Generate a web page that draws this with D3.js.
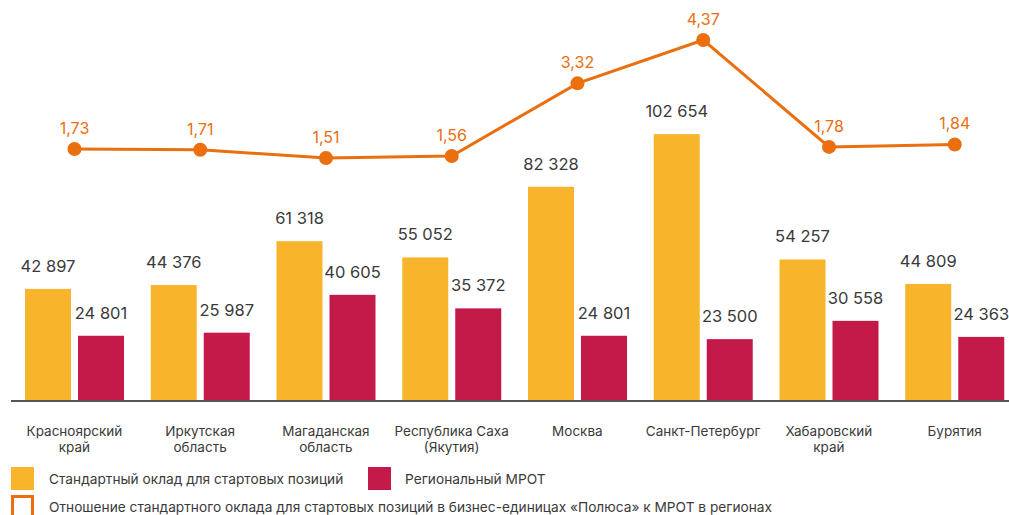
<!DOCTYPE html>
<html>
<head>
<meta charset="utf-8">
<script src="https://cdn.jsdelivr.net/npm/d3@7"></script>
<style>
  html, body { margin: 0; padding: 0; background: #fff; }
  svg { display: block; font-family: Inter, "Noto Sans", sans-serif; }
</style>
</head>
<body>
<svg id="chart" width="1009" height="515"></svg>
<script>
// Regions
const categories = [
  ["Красноярский", "край"],
  ["Иркутская", "область"],
  ["Магаданская", "область"],
  ["Республика Саха", "(Якутия)"],
  ["Москва"],
  ["Санкт-Петербург"],
  ["Хабаровский", "край"],
  ["Бурятия"]
];
// Standard salary for starting positions, RUB
const salary = [42897, 44376, 61318, 55052, 82328, 102654, 54257, 44809];
// Regional minimum wage, RUB
const minWage = [24801, 25987, 40605, 35372, 24801, 23500, 30558, 24363];
// Ratio of salary to minimum wage
const ratio = [1.73, 1.71, 1.51, 1.56, 3.32, 4.37, 1.78, 1.84];
const ratioLabels = ["1,73", "1,71", "1,51", "1,56", "3,32", "4,37", "1,78", "1,84"];

const legendItems = [
  "Стандартный оклад для стартовых позиций",
  "Региональный МРОТ",
  "Отношение стандартного оклада для стартовых позиций в бизнес-единицах «Полюса» к МРОТ в регионах"
];

const C_SAL = "#F8B42B", C_MIN = "#C41A4A", C_LINE = "#EB6E0F", C_TEXT = "#3a3a3a";

const svg = d3.select("#chart");
const baseY = 400;

const keys = categories.map(c => c.join(" "));
const x0 = d3.scaleBand().domain(keys).range([12, 1018]).padding(0);
const x1 = d3.scaleBand().domain(["s", "m"])
  .range([13, 112]).paddingInner(7 / 53).paddingOuter(0);
const y = d3.scaleLinear().domain([0, 100000]).range([baseY, 141]);
const y2 = d3.scaleLinear().domain([0, 4.37]).range([220.4, 40]);

const fmt = v => d3.format(",")(v).replace(/,/g, " ");

const groups = svg.append("g").selectAll("g")
  .data(keys).join("g")
  .attr("transform", d => `translate(${x0(d)},0)`);

groups.each(function (k, i) {
  const g = d3.select(this);
  const items = [
    { key: "s", v: salary[i], c: C_SAL },
    { key: "m", v: minWage[i], c: C_MIN }
  ];
  g.selectAll("rect").data(items).join("rect")
    .attr("x", d => x1(d.key))
    .attr("y", d => y(d.v))
    .attr("width", x1.bandwidth())
    .attr("height", d => baseY - y(d.v))
    .attr("fill", d => d.c);
  g.selectAll("text.val").data(items).join("text")
    .attr("class", "val")
    .attr("x", d => x1(d.key) + x1.bandwidth() / 2)
    .attr("y", d => y(d.v) - 17)
    .attr("text-anchor", "middle")
    .attr("font-size", 16.5)
    .attr("fill", C_TEXT)
    .text(d => fmt(d.v));
});

// Baseline axis
const xAxis = d3.axisBottom(x0).tickSize(0).tickFormat("");
const axisG = svg.append("g").attr("transform", `translate(0,${baseY + 1})`).call(xAxis);
axisG.select(".domain").remove();
svg.append("line")
  .attr("x1", 11).attr("x2", 1009)
  .attr("y1", baseY + 1).attr("y2", baseY + 1)
  .attr("stroke", "#555").attr("stroke-width", 2);

// Category labels
const catG = svg.append("g");
categories.forEach((lines, i) => {
  const t = catG.append("text")
    .attr("x", x0(keys[i]) + x0.bandwidth() / 2 - 0.5)
    .attr("y", 436)
    .attr("text-anchor", "middle")
    .attr("font-size", 13.5)
    .attr("fill", C_TEXT);
  lines.forEach((ln, j) => {
    t.append("tspan")
      .attr("x", x0(keys[i]) + x0.bandwidth() / 2 - 0.5)
      .attr("dy", j === 0 ? 0 : 15.5)
      .text(ln);
  });
});

// Ratio line
const cx = i => x0(keys[i]) + x1.range()[0] + (x1.range()[1] - x1.range()[0]) / 2;
const line = d3.line().x((d, i) => cx(i)).y(d => y2(d));
svg.append("path")
  .datum(ratio)
  .attr("d", line)
  .attr("fill", "none")
  .attr("stroke", C_LINE)
  .attr("stroke-width", 3);
svg.append("g").selectAll("circle").data(ratio).join("circle")
  .attr("cx", (d, i) => cx(i))
  .attr("cy", d => y2(d))
  .attr("r", 7)
  .attr("fill", C_LINE);
svg.append("g").selectAll("text").data(ratio).join("text")
  .attr("x", (d, i) => cx(i))
  .attr("y", d => y2(d) - 15)
  .attr("text-anchor", "middle")
  .attr("font-size", 16)
  .attr("fill", C_LINE)
  .text((d, i) => ratioLabels[i]);

// Legend
const leg = svg.append("g");
leg.append("rect").attr("x", 11).attr("y", 467).attr("width", 23).attr("height", 23).attr("fill", C_SAL);
leg.append("text").attr("x", 49).attr("y", 483.5).attr("font-size", 13.7).attr("fill", C_TEXT).text(legendItems[0]);
leg.append("rect").attr("x", 368).attr("y", 467).attr("width", 23).attr("height", 23).attr("fill", C_MIN);
leg.append("text").attr("x", 405).attr("y", 483.5).attr("font-size", 13.7).attr("fill", C_TEXT).text(legendItems[1]);
leg.append("rect").attr("x", 12.5).attr("y", 496.5).attr("width", 20).attr("height", 24)
  .attr("fill", "none").attr("stroke", C_LINE).attr("stroke-width", 3);
leg.append("text").attr("x", 49).attr("y", 511.5).attr("font-size", 13.7).attr("fill", C_TEXT).text(legendItems[2]);
</script>
</body>
</html>
